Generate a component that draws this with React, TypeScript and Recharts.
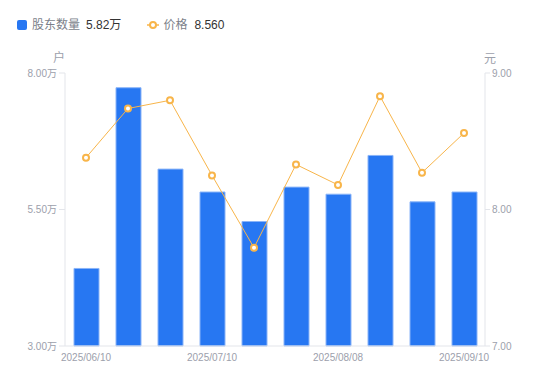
import React from 'react';
import { ComposedChart, Bar, Line, XAxis, YAxis } from 'recharts';

const dates = ['2025/06/10', '2025/06/20', '2025/06/30', '2025/07/10', '2025/07/18', '2025/07/31', '2025/08/08', '2025/08/20', '2025/08/29', '2025/09/10'];
const holders = [4.42, 7.73, 6.24, 5.82, 5.28, 5.91, 5.78, 6.49, 5.64, 5.82];
const prices = [8.38, 8.74, 8.8, 8.25, 7.72, 8.33, 8.18, 8.83, 8.27, 8.56];
const leftTicks = [3, 5.5, 8];
const rightTicks = [7, 8, 9];

const data = dates.map((d, i) => ({ date: d, holders: holders[i], price: prices[i] }));

const tickColor = '#9ca0ab';
const axisColor = '#e3e5ea';
const font = 'Arial, "Liberation Sans", "Noto Sans CJK SC", sans-serif';

export default function App() {
  return (
    <div style={{ position: 'absolute', left: 0, top: 0, width: 550, height: 381, fontFamily: font }}>
      <div style={{ position: 'absolute', left: 17, top: 16, fontSize: 12, display: 'flex', alignItems: 'center', whiteSpace: 'nowrap', lineHeight: '18px' }}>
        <span style={{ display: 'inline-block', width: 10, height: 10, borderRadius: 2, background: '#2777f2', marginRight: 5 }} />
        <span style={{ color: '#7b7f8a' }}>股东数量</span>
        <span style={{ color: '#333', marginLeft: 6 }}>5.82万</span>
        <svg width={12} height={10} style={{ marginLeft: 26, marginRight: 4 }}>
          <line x1={0} y1={5} x2={12} y2={5} stroke="#f8b54a" strokeWidth={1.5} />
          <circle cx={6} cy={5} r={3} fill="#fff" stroke="#f8b54a" strokeWidth={2} />
        </svg>
        <span style={{ color: '#7b7f8a' }}>价格</span>
        <span style={{ color: '#333', marginLeft: 7 }}>8.560</span>
      </div>
      <div style={{ position: 'absolute', left: 53, top: 48, fontSize: 12, color: tickColor }}>户</div>
      <div style={{ position: 'absolute', left: 484, top: 49, fontSize: 12, color: tickColor }}>元</div>
      <ComposedChart width={550} height={381} data={data} margin={{ top: 73, right: 0, bottom: 0, left: 0 }}>
        <XAxis
          dataKey="date"
          interval={2}
          tickLine={false}
          axisLine={{ stroke: axisColor }}
          tick={{ fill: tickColor, fontSize: 10, fontFamily: font }}
          height={35}
        />
        <YAxis
          yAxisId="left"
          orientation="left"
          domain={[3, 8]}
          ticks={leftTicks}
          width={65}
          tickSize={6}
          tickLine={{ stroke: axisColor }}
          axisLine={{ stroke: axisColor }}
          tick={{ fill: tickColor, fontSize: 10, fontFamily: font }}
          tickFormatter={(v: number) => v.toFixed(2) + '万'}
        />
        <YAxis
          yAxisId="right"
          orientation="right"
          domain={[7, 9]}
          ticks={rightTicks}
          width={65}
          tickSize={5}
          tickLine={{ stroke: axisColor }}
          axisLine={{ stroke: axisColor }}
          tick={{ fill: tickColor, fontSize: 10, fontFamily: font }}
          tickFormatter={(v: number) => v.toFixed(2)}
        />
        <Bar yAxisId="left" dataKey="holders" barSize={25} fill="#2777f2" stroke="#8ab4f8" strokeWidth={1} isAnimationActive={false} />
        <Line
          yAxisId="right"
          dataKey="price"
          stroke="#f8b54a"
          strokeWidth={1}
          dot={{ r: 3, fill: '#fff', stroke: '#f8b54a', strokeWidth: 2 }}
          activeDot={false}
          isAnimationActive={false}
        />
      </ComposedChart>
    </div>
  );
}
